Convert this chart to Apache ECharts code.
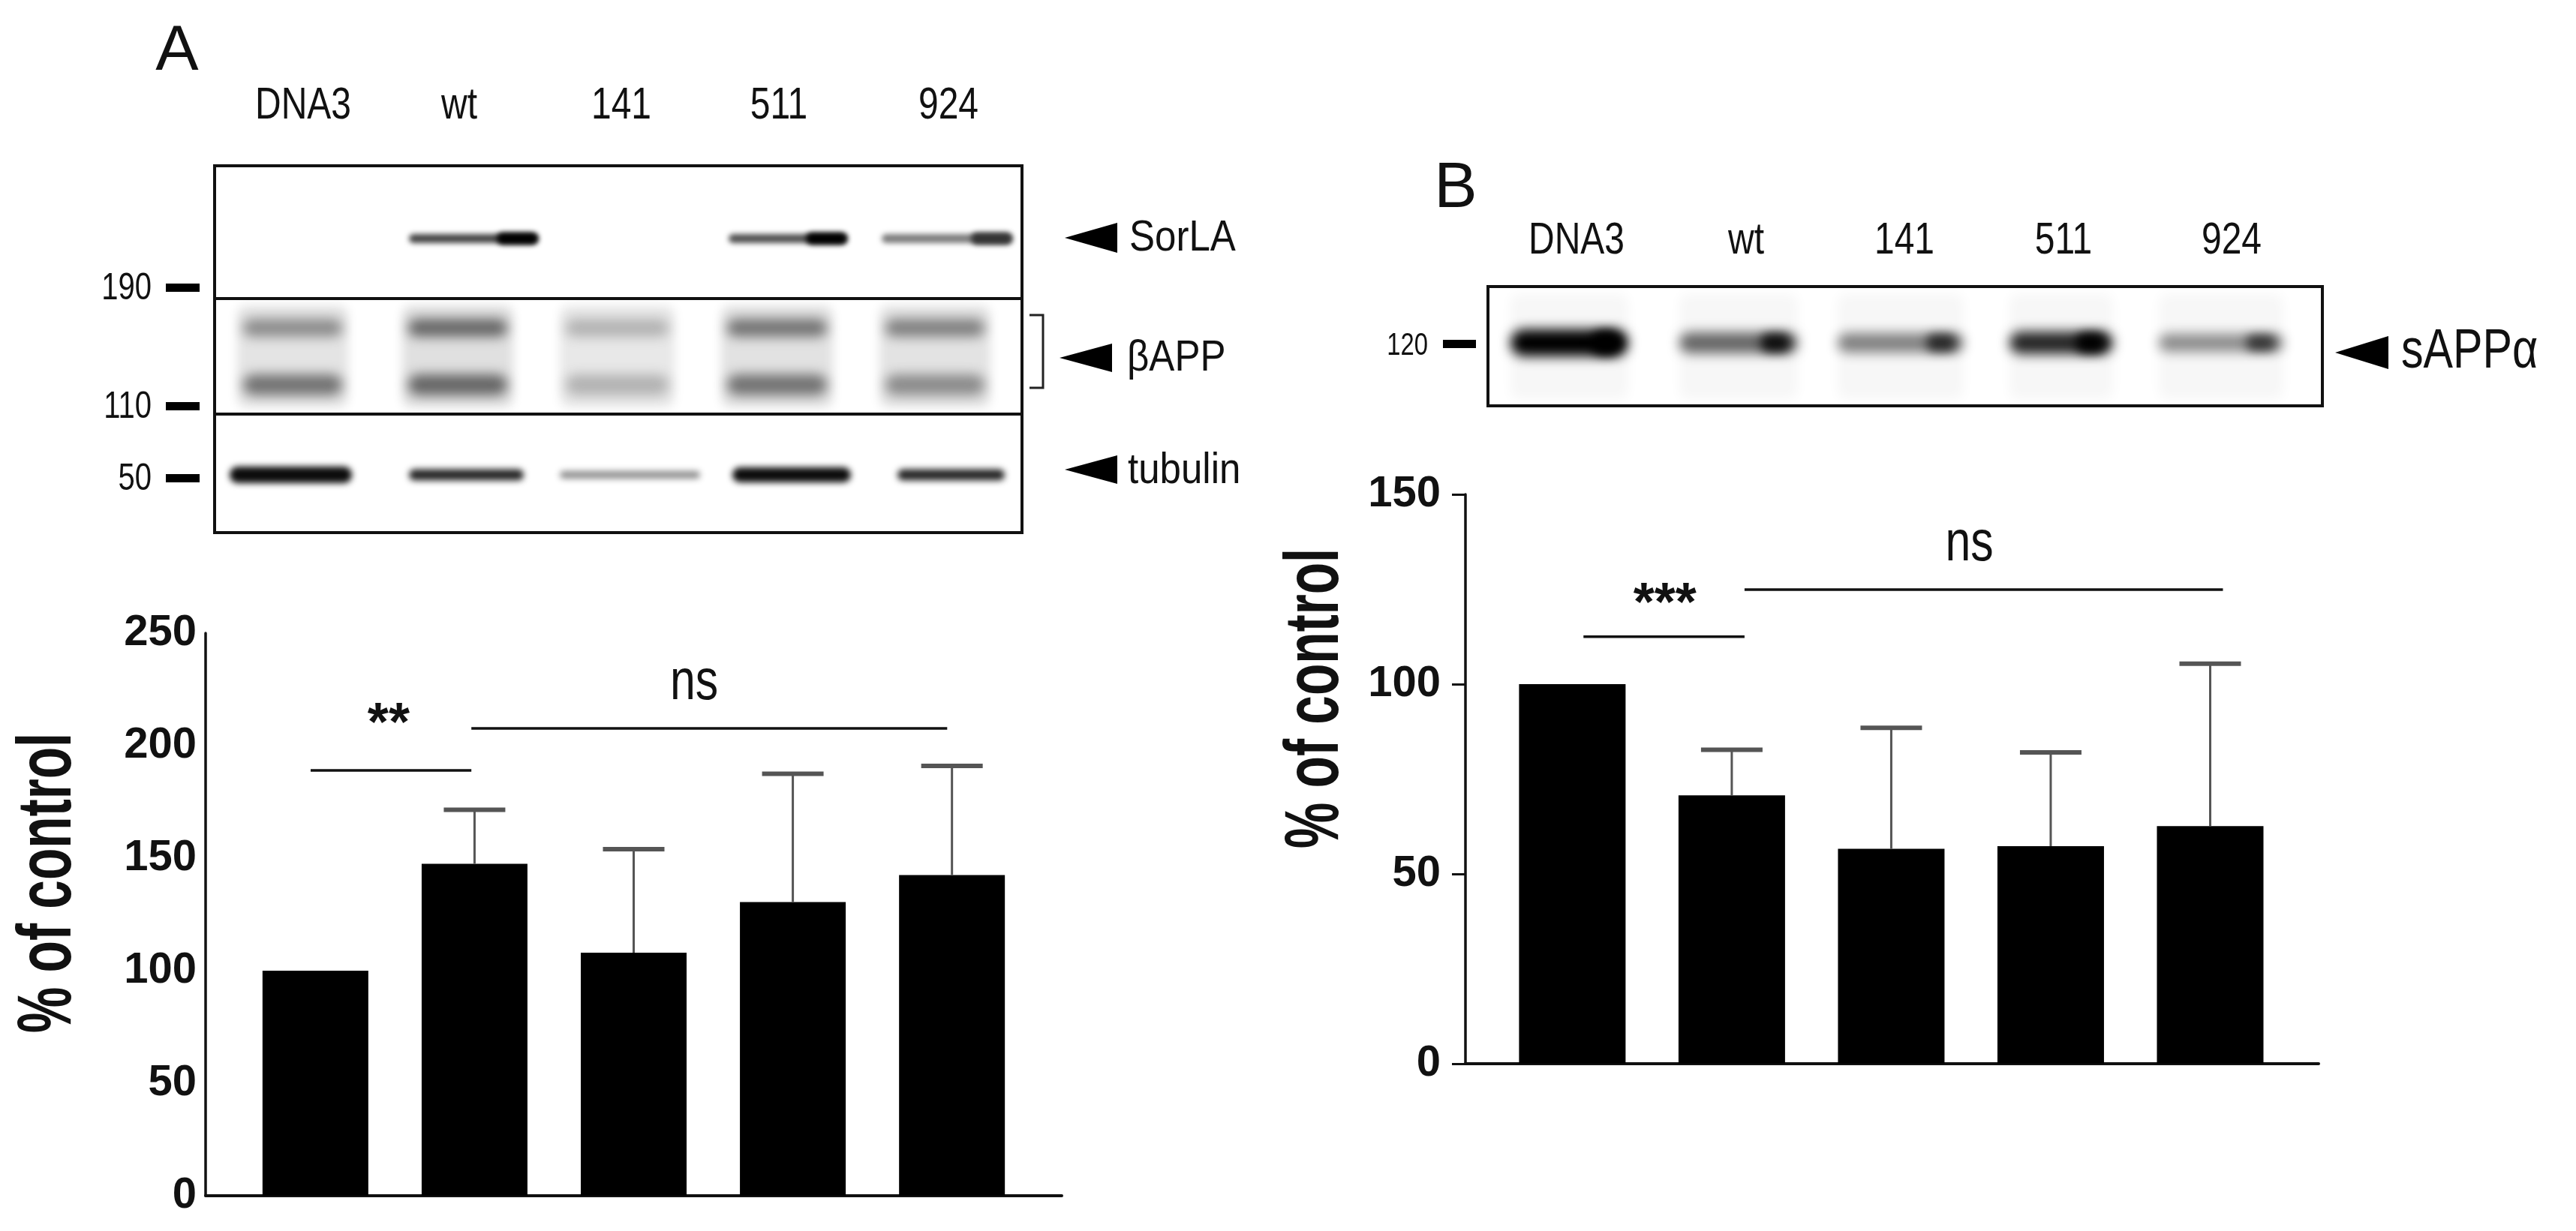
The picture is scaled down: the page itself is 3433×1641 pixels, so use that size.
<!DOCTYPE html>
<html><head><meta charset="utf-8">
<script src="https://cdn.jsdelivr.net/npm/echarts@6/dist/echarts.min.js"></script>
<style>html,body{margin:0;padding:0;background:#fff}#c{width:3433px;height:1641px}</style>
</head><body><div id="c"></div>
<script>
// ================= DATA =================
const lanes = ['DNA3', 'wt', '141', '511', '924'];
const yTicksA = [0, 50, 100, 150, 200, 250];
const yTicksB = [0, 50, 100, 150];
// Panel A: % of control (mean) and top of error bar
const meanA = [100, 147.5, 108, 130.5, 142.5];
const errTopA = [null, 171.5, 154, 187.5, 191];
// Panel B
const meanB = [100, 70.7, 56.6, 57.3, 62.6];
const errTopB = [null, 82.7, 88.5, 82, 105.4];
// significance brackets: [fromX, toX, y]
const sigLinesA = [[-0.03, 0.98, 189], [0.98, 3.97, 207.7]];
const sigTextA = [[0.46, 209, '**'], [2.38, 227.7, 'ns']];
const sigLinesB = [[0.07, 1.08, 112.5], [1.08, 4.08, 124.9]];
const sigTextB = [[0.58, 120.8, '***'], [2.49, 136.8, 'ns']];
// blot band intensities (0 = none, 1 = black)
const sorlaA = [0, 0.85, 0, 0.8, 0.6];
const appUpperA = [0.45, 0.6, 0.3, 0.55, 0.5];
const appLowerA = [0.55, 0.6, 0.3, 0.55, 0.45];
const tubulinA = [0.95, 0.85, 0.45, 0.95, 0.85];
const sappB = [1.0, 0.6, 0.5, 0.85, 0.45];
const markersA = ['190', '110', '50'];
const markersB = ['120'];

// ================= LAYOUT =================
const FONT = "'Liberation Sans', Arial, Helvetica, sans-serif";
const OFF = 6000;
function gray(k) { const g = Math.round(255 * (1 - k)); return 'rgb(' + g + ',' + g + ',' + g + ')'; }
function blob(x1, x2, cy, h, k, blur, r) {
  const c = gray(k);
  return { type: 'rect', silent: true, z: 2,
    shape: { x: x1 - OFF, y: cy - h / 2, width: x2 - x1, height: h, r: r == null ? h / 2 : r },
    style: { fill: c, shadowBlur: blur, shadowColor: c, shadowOffsetX: OFF } };
}
function txt(x, y, s, size, opts) {
  opts = opts || {};
  return { type: 'text', silent: true, z: 5, x: x, y: y,
    rotation: opts.rot || 0, scaleX: opts.sx || 1, scaleY: 1,
    style: { text: s, fill: opts.color || '#111', align: opts.align || 'center', verticalAlign: 'middle',
      font: (opts.weight || 'normal') + ' ' + size + 'px ' + FONT } };
}
function tri(tipX, cy, baseX, halfH) {
  return { type: 'polygon', silent: true, z: 5,
    shape: { points: [[tipX, cy], [baseX, cy - halfH], [baseX, cy + halfH]] },
    style: { fill: '#000' } };
}
function rectStroke(x, y, w, h) {
  return { type: 'rect', silent: true, z: 4, shape: { x: x, y: y, width: w, height: h },
    style: { fill: null, stroke: '#111', lineWidth: 4 } };
}
function hline(x1, x2, y, w) {
  return { type: 'line', silent: true, z: 4, shape: { x1: x1, y1: y, x2: x2, y2: y },
    style: { stroke: '#111', lineWidth: w || 4 } };
}

const G = [];
// Panel letters
G.push(txt(236, 69, 'A', 86));
G.push(txt(1940, 252, 'B', 86));
// ---- Panel A blot ----
const laneLabelAx = [404, 612, 828, 1038, 1264];
lanes.forEach((l, i) => G.push(txt(laneLabelAx[i], 141, l, 60, { sx: 0.8 })));
// beta-APP lane smear
const appLaneA = [[316, 464], [536, 684], [746, 899], [961, 1110], [1172, 1320]];
appLaneA.forEach((r, i) => G.push(blob(r[0], r[1], 475, 136, 0.06 + appUpperA[i] * 0.1, 14, 12)));
appLaneA.forEach((r, i) => {
  G.push(blob(r[0] + 8, r[1] - 8, 437, 24, appUpperA[i], 16, 12));
  G.push(blob(r[0] + 8, r[1] - 8, 513, 28, appLowerA[i], 16, 14));
});
// SorLA
const sorlaLaneA = [[330, 480], [545, 717], [760, 920], [971, 1129], [1175, 1349]];
sorlaLaneA.forEach((r, i) => {
  if (sorlaA[i] > 0) {
    G.push(blob(r[0], r[1], 318, 12, sorlaA[i] * 0.85, 7));
    G.push(blob(r[1] - 55, r[1], 318, 16, Math.min(1, sorlaA[i] + 0.2), 7));
  }
});
// tubulin
const tubLaneA = [[306, 469], [545, 698], [746, 933], [976, 1134], [1196, 1339]];
const tubH = [22, 15, 10, 20, 15];
tubLaneA.forEach((r, i) => G.push(blob(r[0], r[1], 633, tubH[i], tubulinA[i], 8)));
// blot frame
G.push(rectStroke(286, 221, 1076, 489));
G.push(hline(286, 1362, 398));
G.push(hline(286, 1362, 552));
// markers
const markerYA = [383, 541, 637];
markersA.forEach((m, i) => {
  G.push(txt(202, markerYA[i] + 2, m, 50, { sx: 0.8, align: 'right' }));
  G.push({ type: 'rect', silent: true, z: 5, shape: { x: 221, y: markerYA[i] - 5, width: 45, height: 11 }, style: { fill: '#000' } });
});
// right labels A
G.push(tri(1419, 317, 1489, 20)); G.push(txt(1505, 318, 'SorLA', 58, { align: 'left', sx: 0.88 }));
G.push(tri(1412, 477, 1482, 19)); G.push(txt(1502, 478, 'βAPP', 58, { align: 'left', sx: 0.88 }));
G.push(tri(1419, 626, 1489, 19)); G.push(txt(1503, 628, 'tubulin', 58, { align: 'left', sx: 0.88 }));
G.push({ type: 'polyline', silent: true, z: 5, shape: { points: [[1372, 420], [1390, 420], [1390, 517], [1372, 517]] }, style: { stroke: '#222', lineWidth: 3, fill: null } });

// ---- Panel B blot ----
const laneLabelBx = [2101, 2327, 2538, 2750, 2974];
lanes.forEach((l, i) => G.push(txt(laneLabelBx[i], 321, l, 60, { sx: 0.8 })));
const sappLaneB = [[2013, 2170], [2238, 2396], [2449, 2617], [2678, 2816], [2877, 3043]];
const sappH = [36, 28, 26, 30, 24];
sappLaneB.forEach((r, i) => {
  G.push(blob(r[0], r[1], 462, 140, 0.03, 16, 10));
});
sappLaneB.forEach((r, i) => {
  G.push(blob(r[0], r[1], 457, sappH[i], sappB[i], 16));
  G.push(blob(r[1] - 50, r[1] - 10, 457, sappH[i] - 4, Math.min(1, sappB[i] + 0.35), 14));
});
G.push(rectStroke(1983, 382, 1112, 159));
markersB.forEach((m) => {
  G.push(txt(1903, 461, m, 42, { sx: 0.78, align: 'right' }));
  G.push({ type: 'rect', silent: true, z: 5, shape: { x: 1923, y: 453, width: 44, height: 11 }, style: { fill: '#000' } });
});
G.push(tri(3112, 470, 3183, 22)); G.push(txt(3200, 470, 'sAPPα', 74, { align: 'left', sx: 0.8 }));

// y axis titles
G.push(txt(66, 1177, '% of control', 102, { weight: 'bold', rot: Math.PI / 2, sx: 0.68 }));
G.push(txt(1755, 931, '% of control', 102, { weight: 'bold', rot: Math.PI / 2, sx: 0.68 }));

// ================= CHART =================
function barData(v) { return v.map((y, i) => [i, y]); }
function errData(m, t) { return m.map((y, i) => [i, y, t[i]]).filter(d => d[2] != null); }
function errRender(params, api) {
  const x = api.value(0), m = api.value(1), t = api.value(2);
  const p0 = api.coord([x, m]), p1 = api.coord([x, t]);
  return { type: 'group', children: [
    { type: 'line', shape: { x1: p0[0], y1: p0[1], x2: p1[0], y2: p1[1] }, style: { stroke: '#555', lineWidth: 3 } },
    { type: 'line', shape: { x1: p1[0] - 41, y1: p1[1], x2: p1[0] + 41, y2: p1[1] }, style: { stroke: '#555', lineWidth: 6 } }
  ] };
}
function sigLineRender(params, api) {
  const a = api.coord([api.value(0), api.value(2)]), b = api.coord([api.value(1), api.value(2)]);
  return { type: 'line', shape: { x1: a[0], y1: a[1], x2: b[0], y2: b[1] }, style: { stroke: '#111', lineWidth: 3.5 } };
}
function sigTextRenderFor(arr) {
  return function (params, api) {
    const d = arr[params.dataIndex];
    const p = api.coord([d[0], d[1]]);
    const label = d[2];
    const isStar = label.indexOf('*') >= 0;
    return { type: 'text', x: p[0], y: p[1], scaleX: isStar ? 1 : 0.8,
      style: { text: label, align: 'center', verticalAlign: 'middle', fill: '#111',
        font: (isStar ? 'bold 72px ' : 'normal 76px ') + FONT } };
  };
}

const xAxisBase = (gi, min, max) => ({ gridIndex: gi, type: 'value', min: min, max: max,
  axisLine: { show: true, onZero: false, lineStyle: { color: '#111', width: 4 } },
  axisTick: { show: false }, axisLabel: { show: false }, splitLine: { show: false } });
const yAxisBase = (gi, ticks, tickShow, margin) => ({ gridIndex: gi, type: 'value',
  min: ticks[0], max: ticks[ticks.length - 1], interval: ticks[1] - ticks[0],
  axisLine: { show: true, onZero: false, lineStyle: { color: '#111', width: 3.5 } },
  axisTick: { show: tickShow, length: 18, lineStyle: { color: '#111', width: 3 } },
  axisLabel: { margin: margin, color: '#111', fontSize: 58, fontWeight: 'bold', fontFamily: FONT },
  splitLine: { show: false } });

const option = {
  backgroundColor: '#fff',
  animation: false,
  grid: [
    { left: 274, top: 844, width: 1141, height: 750 },
    { left: 1953, top: 659, width: 1137, height: 759 }
  ],
  xAxis: [xAxisBase(0, -0.69, 4.69), xAxisBase(1, -0.67, 4.68)],
  yAxis: [yAxisBase(0, yTicksA, false, 12), yAxisBase(1, yTicksB, true, 33)],
  series: [
    { type: 'bar', xAxisIndex: 0, yAxisIndex: 0, data: barData(meanA), barWidth: 141, itemStyle: { color: '#000' }, z: 2 },
    { type: 'bar', xAxisIndex: 1, yAxisIndex: 1, data: barData(meanB), barWidth: 142, itemStyle: { color: '#000' }, z: 2 },
    { type: 'custom', xAxisIndex: 0, yAxisIndex: 0, data: errData(meanA, errTopA), renderItem: errRender, z: 3 },
    { type: 'custom', xAxisIndex: 1, yAxisIndex: 1, data: errData(meanB, errTopB), renderItem: errRender, z: 3 },
    { type: 'custom', xAxisIndex: 0, yAxisIndex: 0, data: sigLinesA, renderItem: sigLineRender, clip: false },
    { type: 'custom', xAxisIndex: 1, yAxisIndex: 1, data: sigLinesB, renderItem: sigLineRender, clip: false },
    { type: 'custom', xAxisIndex: 0, yAxisIndex: 0, data: sigTextA.map(d => [d[0], d[1]]), renderItem: sigTextRenderFor(sigTextA), clip: false },
    { type: 'custom', xAxisIndex: 1, yAxisIndex: 1, data: sigTextB.map(d => [d[0], d[1]]), renderItem: sigTextRenderFor(sigTextB), clip: false }
  ],
  graphic: { elements: G }
};
const chart = echarts.init(document.getElementById('c'));
chart.setOption(option);
</script>
</body></html>
